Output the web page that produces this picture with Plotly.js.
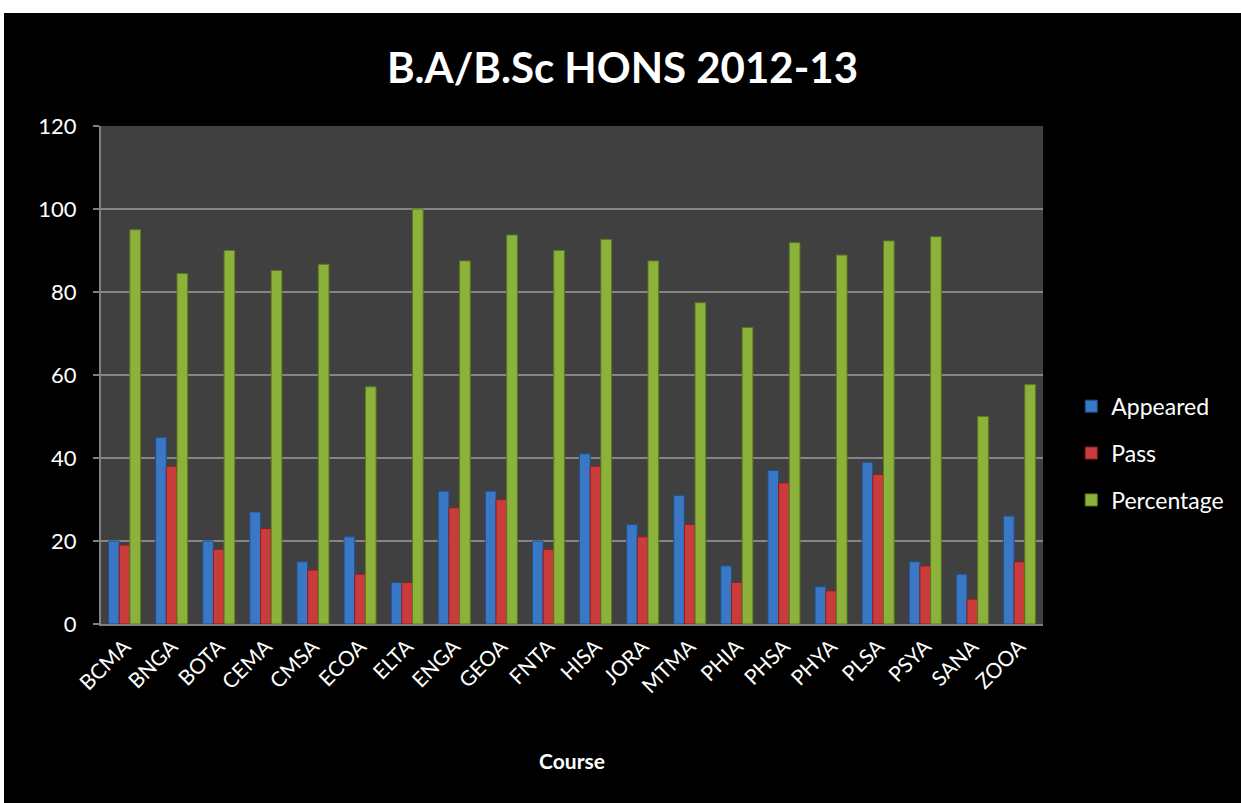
<!DOCTYPE html>
<html>
<head>
<meta charset="utf-8">
<script src="https://cdn.plot.ly/plotly-3.0.1.min.js"></script>
<style>
html,body{margin:0;padding:0;background:#ffffff;}
#chart{position:absolute;left:4px;top:13px;width:1237px;height:790px;}
</style>
</head>
<body>
<div id="chart"></div>
<script>
const courses = ["BCMA","BNGA","BOTA","CEMA","CMSA","ECOA","ELTA","ENGA","GEOA","FNTA","HISA","JORA","MTMA","PHIA","PHSA","PHYA","PLSA","PSYA","SANA","ZOOA"];
const appeared = [20,45,20,27,15,21,10,32,32,20,41,24,31,14,37,9,39,15,12,26];
const pass = [19,38,18,23,13,12,10,28,30,18,38,21,24,10,34,8,36,14,6,15];
const percentage = [95,84.44,90,85.19,86.67,57.14,100,87.5,93.75,90,92.68,87.5,77.42,71.43,91.89,88.89,92.31,93.33,50,57.69];

const font = "Lato, 'Open Sans', sans-serif";
function tr(name, y, color, line, grp){
  return {type:'bar', name:name, x:courses, y:y, legendgroup:grp,
    marker:{color:color, line:{color:line, width:1}}};
}
const data = [
  tr('Appeared', appeared, '#3a77c4', '#1f4f8c', 'a'),
  tr('Pass', pass, '#c93c3b', '#8a2020', 'b'),
  tr('Percentage', percentage, '#8cb23c', '#5a7a1e', 'c')
];
const layout = {
  paper_bgcolor:'#000000', plot_bgcolor:'#404040',
  margin:{l:97, t:113, r:198, b:179},
  title:{text:'<b>B.A/B.Sc HONS 2012-13</b>', font:{family:font, size:42, color:'#ffffff'}, x:0.5, xanchor:'center', y:0.930, yanchor:'middle'},
  barmode:'group', bargap:0.32, bargroupgap:0,
  xaxis:{type:'category', tickangle:-45, tickfont:{family:font, size:21, color:'#ffffff'},
    showline:true, linecolor:'#808080', linewidth:2, ticks:'', showgrid:false,
    title:{text:'<b>Course</b>', font:{family:font, size:21, color:'#ffffff'}, standoff:58}},
  yaxis:{range:[0,120], dtick:20, tickfont:{family:font, size:22, color:'#ffffff'},
    showgrid:true, gridcolor:'#858585', gridwidth:2, zeroline:false,
    showline:true, linecolor:'#808080', linewidth:2, ticks:'outside', ticklen:6, tickcolor:'#808080', tickwidth:2,
    ticklabelstandoff:12},
  legend:{x:1.03, xanchor:'left', y:0.343, yanchor:'middle', font:{family:font, size:23, color:'#ffffff'},
    bgcolor:'rgba(0,0,0,0)', tracegroupgap:14},
  showlegend:true
};
Plotly.newPlot('chart', data, layout, {displayModeBar:false, staticPlot:true});
</script>
</body>
</html>
